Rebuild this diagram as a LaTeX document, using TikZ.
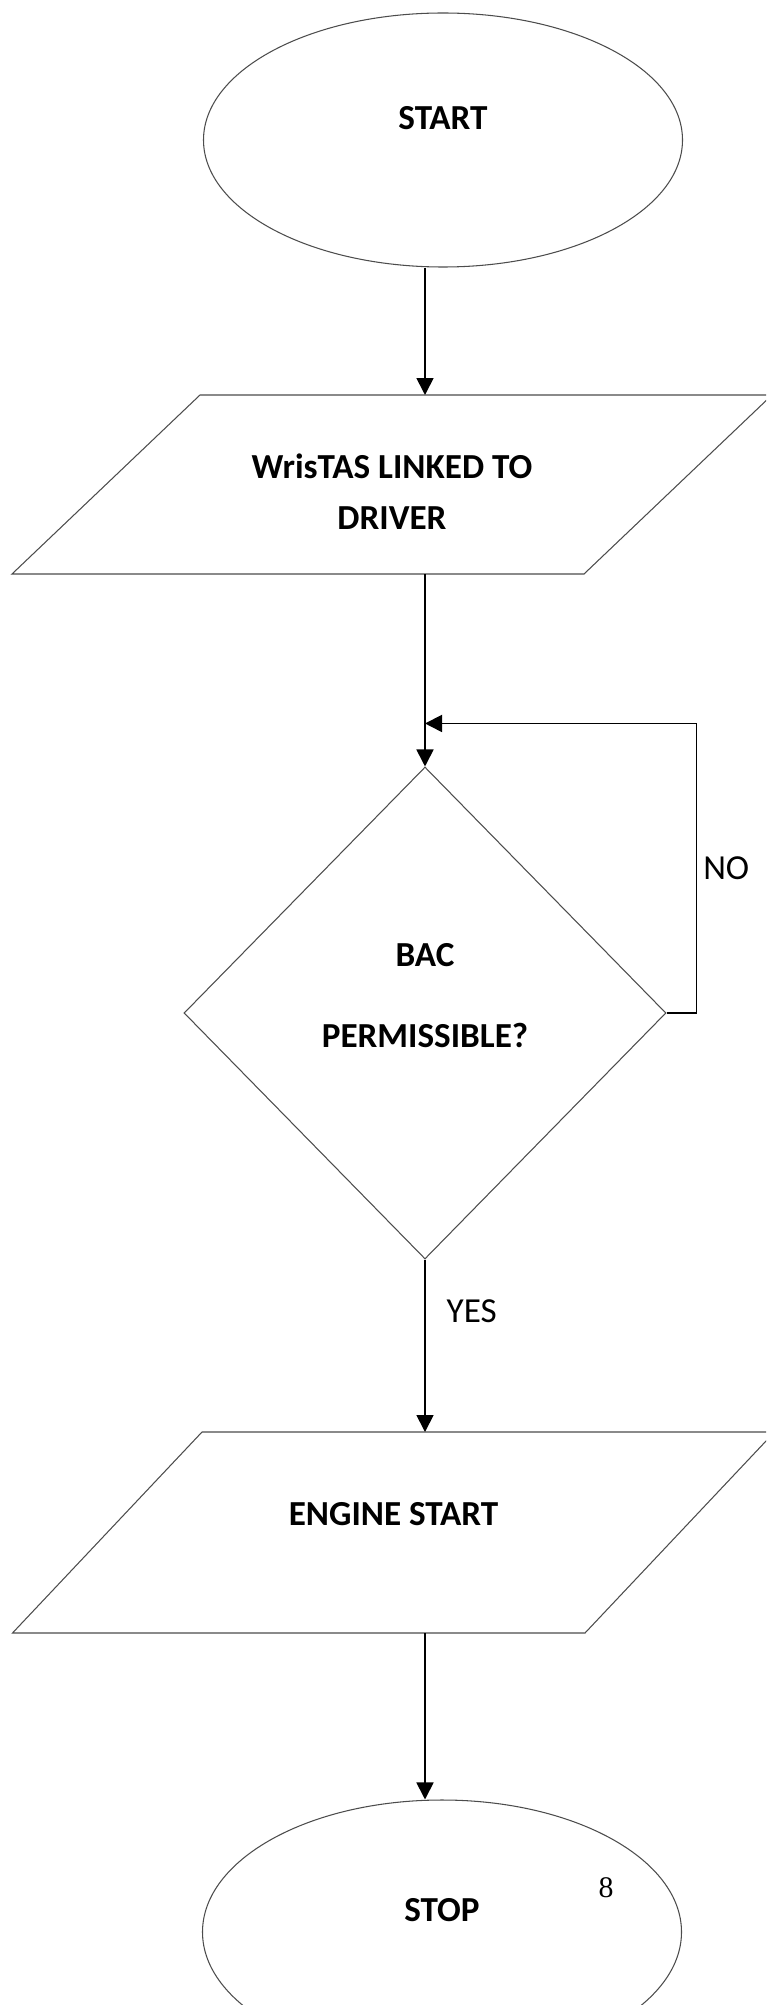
\documentclass[tikz,border=0pt]{standalone}
\usepackage{fontspec}
\setmainfont{Carlito}
\newfontfamily\pagefont{Liberation Serif}
\usetikzlibrary{shapes,arrows.meta,positioning}

\begin{document}
\begin{tikzpicture}[
    termbox/.style={ellipse, draw=black!70, line width=0.6pt, minimum width=9.58cm, text depth=0.88cm, font=\fontsize{20}{24}\selectfont\bfseries},
    iobox/.style={rectangle, inner sep=0pt, outer sep=0pt, align=center, font=\fontsize{20}{24}\selectfont\bfseries},
    ioline/.style={draw=black!70, line width=0.6pt},
    decisionbox/.style={diamond, draw=black!70, line width=0.6pt, minimum width=9.64cm, minimum height=9.84cm, align=center, font=\fontsize{20}{24}\selectfont\bfseries},
    arrow/.style={-{Triangle[length=0.34cm,width=0.34cm]}, line width=1pt},
    answer/.style={font=\fontsize{20}{24}\selectfont}
]

\clip (0,0) rectangle (15.32,-40.1);

% Start
\node[termbox, minimum height=5.08cm] (start) at (8.86,-2.8) {START};

% Driver link
\node[iobox, minimum width=15.2cm, minimum height=3.58cm] (wris) at (7.84,-9.69) {
    \mbox{}\\[-0.07cm]
    WrisTAS LINKED TO\\[0.18cm]
    DRIVER
};
\draw[ioline] (wris.south west) -- ++(11.44,0) -- (wris.north east) -- ++(-11.44,0) -- cycle;

% BAC check
\node[decisionbox] (bac) at (8.5,-20.26) {
    BAC\\[0.78cm]
    PERMISSIBLE?\\[-0.15cm]
    \mbox{}
};
\coordinate[above=0.86cm of bac.north] (merge);

% Engine
\node[iobox, text depth=0.76cm, minimum width=15.24cm, minimum height=4.02cm] (eng) at (7.87,-30.65) {ENGINE START};
\draw[ioline] (eng.south west) -- ++(11.45,0) -- (eng.north east) -- ++(-11.45,0) -- cycle;

% Stop
\node[termbox, minimum height=5.28cm] (stop) at (8.84,-38.64) {STOP};

% Page number
\node[font=\pagefont\fontsize{17}{20}\selectfont] (pagenum) at (12.12,-37.76) {8};

% Arrows
\draw[arrow] (start.south -| bac) -- (wris.north -| bac);
\draw[arrow] (wris.south -| bac) -- (bac.north);
\draw[arrow] (bac.east) -- ++(0.6,0) |- node[answer, pos=0.25, right] {NO} (merge);
\draw[arrow] (bac.south) -- node[answer, pos=0.3, right, xshift=0.3cm] {YES} (eng.north -| bac);
\draw[arrow] (eng.south -| bac) -- (stop.north -| bac);

\end{tikzpicture}
\end{document}
